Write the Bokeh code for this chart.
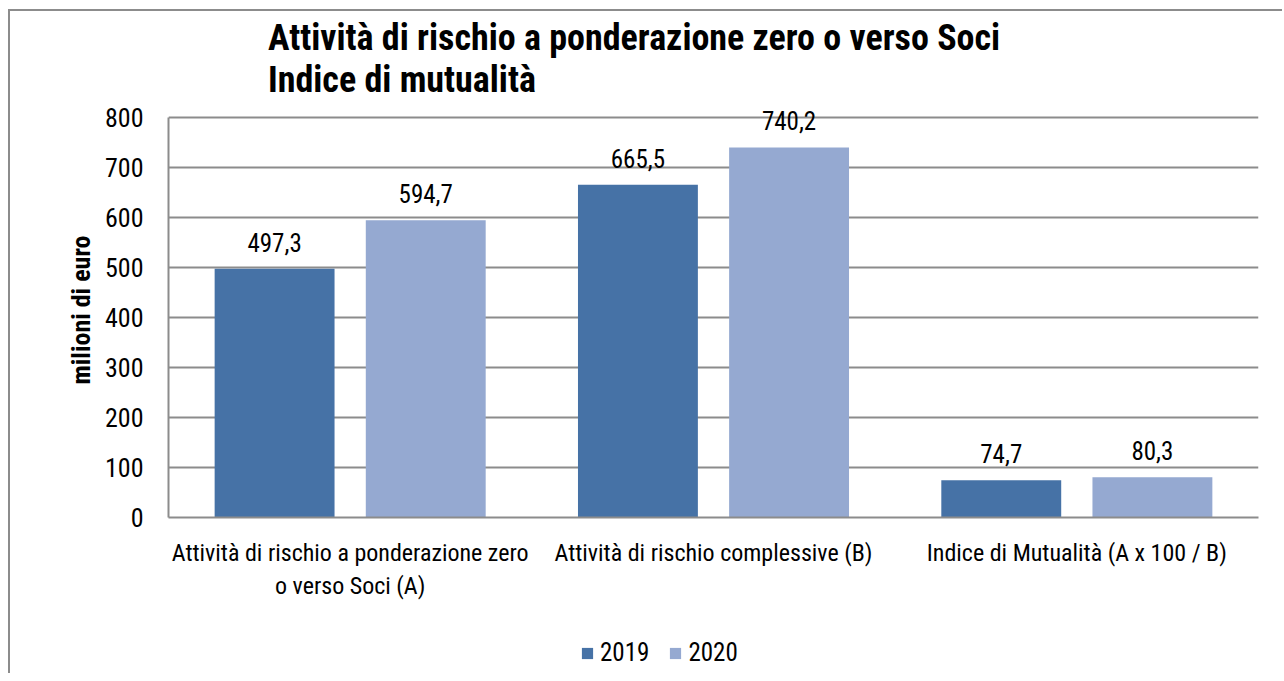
from bokeh.plotting import figure
from bokeh.layouts import column
from bokeh.models import (ColumnDataSource, FactorRange, Legend, LegendItem, SingleIntervalTicker,
                          LabelSet, Div)
from bokeh.transform import dodge
from bokeh.core.properties import value
from bokeh.embed import file_html
from bokeh.resources import INLINE

# ---- data ----
categories = [
    "Attività di rischio a ponderazione zero\no verso Soci (A)",
    "Attività di rischio complessive (B)",
    "Indice di Mutualità (A x 100 / B)",
]
series_names = ["2019", "2020"]
values_2019 = [497.3, 665.5, 74.7]
values_2020 = [594.7, 740.2, 80.3]
title_lines = ["Attività di rischio a ponderazione zero o verso Soci", "Indice di mutualità"]
y_axis_title = "milioni di euro"
y_axis_max = 800

FONT = "Roboto Condensed"
C2019 = "#4672A6"
C2020 = "#95A9D1"
GRID = "#8c8c8c"
W_TOTAL = 1272
TITLE_H = 90

def fmt(v):
    return f"{v:.1f}".replace(".", ",")

src = ColumnDataSource(dict(
    cat=categories,
    v19=values_2019,
    v20=values_2020,
    l19=[fmt(v) for v in values_2019],
    l20=[fmt(v) for v in values_2020],
))

# title block
title_div = Div(
    text=("<div style=\"font-family:'Roboto Condensed';font-weight:bold;font-size:36px;"
          "line-height:42px;color:black;padding-left:258px;padding-top:6px;white-space:nowrap\">"
          + "<br>".join(title_lines) + "</div>"),
    width=W_TOTAL, height=TITLE_H, margin=0,
)

# frame extends a little above the top gridline so the highest value label is not clipped
p = figure(
    x_range=FactorRange(*categories, range_padding=0),
    y_range=(0, y_axis_max + 30),
    width=W_TOTAL, height=530,
    output_backend="svg", toolbar_location=None,
    min_border_left=158, min_border_right=W_TOTAL - 158 - 1090,
    min_border_top=1, min_border_bottom=114,
)
p.outline_line_color = None
p.background_fill_color = "white"
p.border_fill_color = "white"

W = 0.33
OFF = 0.208
r19 = p.vbar(x=dodge("cat", -OFF, range=p.x_range), top="v19", width=W, source=src,
             fill_color=C2019, line_color=None)
r20 = p.vbar(x=dodge("cat", OFF, range=p.x_range), top="v20", width=W, source=src,
             fill_color=C2020, line_color=None)

for col, lab, off in (("v19", "l19", -OFF), ("v20", "l20", OFF)):
    ls = LabelSet(x=dodge("cat", off, range=p.x_range), y=col, text=lab, source=src,
                  text_align="center", text_baseline="alphabetic", y_offset=17,
                  text_font=value(FONT), text_font_size=value("25px"), text_color="black")
    p.add_layout(ls)

# axes
p.yaxis.ticker = SingleIntervalTicker(interval=100)
p.yaxis.bounds = (0, y_axis_max)
p.yaxis.axis_label = y_axis_title
p.yaxis.axis_label_text_font = FONT
p.yaxis.axis_label_text_font_size = "26px"
p.yaxis.axis_label_text_font_style = "bold"
p.yaxis.axis_label_text_color = "black"
p.yaxis.axis_label_standoff = 6
p.yaxis.major_label_text_font = FONT
p.yaxis.major_label_text_font_size = "26px"
p.yaxis.major_label_standoff = 19
p.yaxis.major_tick_line_color = None
p.yaxis.minor_tick_line_color = None
p.yaxis.axis_line_color = GRID
p.yaxis.axis_line_width = 2

p.xaxis.major_label_text_font = FONT
p.xaxis.major_label_text_font_size = "24px"
p.xaxis.major_label_standoff = 15
p.xaxis.major_tick_line_color = None
p.xaxis.axis_line_color = GRID
p.xaxis.axis_line_width = 2
p.xaxis.major_label_text_color = "black"
p.yaxis.major_label_text_color = "black"

p.xgrid.grid_line_color = None
p.ygrid.grid_line_color = GRID
p.ygrid.grid_line_width = 2
p.ygrid.bounds = (0, y_axis_max)

# legend row (separate strip below the chart; its frame aligns with the chart frame)
lf = figure(width=W_TOTAL, height=42, x_range=(0, 1), y_range=(0, 1),
            output_backend="svg", toolbar_location=None,
            min_border_left=0, min_border_right=0, min_border_top=0, min_border_bottom=0)
lf.axis.visible = False
lf.grid.grid_line_color = None
lf.outline_line_color = None
lf.border_fill_color = "white"
e = ColumnDataSource(dict(x=[-5.0], top=[-5.0]))
lr19 = lf.vbar(x="x", top="top", width=0.1, source=e, fill_color=C2019, line_color=None)
lr20 = lf.vbar(x="x", top="top", width=0.1, source=e, fill_color=C2020, line_color=None)
legend = Legend(
    items=[LegendItem(label=series_names[0], renderers=[lr19]),
           LegendItem(label=series_names[1], renderers=[lr20])],
    orientation="horizontal", location=(412, 6),
    glyph_width=14, glyph_height=14, label_height=14, label_standoff=6, spacing=19,
    padding=0, margin=0, border_line_color=None, background_fill_alpha=0,
    label_text_font=FONT, label_text_font_size="25px", label_text_color="black",
)
lf.add_layout(legend, "center")

layout = column(title_div, p, lf, spacing=0)
layout.styles = {"margin-left": "8px", "margin-top": "9px",
                 "border-left": "2px solid #8c8c8c", "border-top": "2px solid #8c8c8c"}

open("out.html", "w").write(file_html(layout, INLINE))
